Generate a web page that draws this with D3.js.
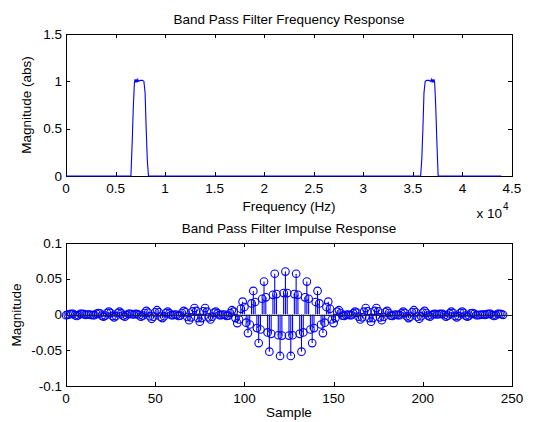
<!DOCTYPE html>
<html>
<head>
<meta charset="utf-8">
<script src="https://cdn.jsdelivr.net/npm/d3@7"></script>
<style>
  body { margin: 0; background: #fff; }
  text { font-family: "Liberation Sans", Arial, Helvetica, sans-serif; font-size: 13.5px; fill: #000; }
</style>
</head>
<body>
<svg id="chart" width="535" height="422"></svg>
<script>
// top panel: |H(f)| (Hz, abs)
let freqHz  = [0, 6550, 6680, 6790, 6900, 6960, 7030, 7100, 7170, 7240, 7310, 7500, 7700, 7860, 7980, 8090, 8200, 8320,
               35780, 35900, 36010, 36120, 36240, 36400, 36600, 36790, 36860, 36930, 37000, 37070, 37140, 37200, 37310, 37420, 37550,
               43920];
let freqMag = [0, 0, 0.36, 0.72, 0.98, 1.02, 0.99, 1.02, 0.99, 1.02, 1.0, 1.01, 1.01, 1.0, 0.88, 0.5, 0.18, 0,
               0, 0.18, 0.5, 0.88, 1.0, 1.01, 1.01, 1.0, 1.02, 0.99, 1.02, 0.99, 1.02, 0.98, 0.72, 0.36, 0,
               0];
let freqTicks = [0, 5000, 10000, 15000, 20000, 25000, 30000, 35000, 40000, 45000];
let magTicks  = [0, 0.5, 1, 1.5];

// bottom panel: impulse response h[n], n = 0..245
let impulse = [
  -.001, -.0005, .0005, .001, .001, -.001, -.002, -.001, .001, .001,
  .0005, -.0005, 0, 0, -.0005, -.001, -.001, .001, .002, .0015,
  -.0015, -.003, -.0015, .002, .004, .002, -.002, -.004, -.002, .002,
  .004, .0015, -.0015, -.003, -.001, .001, .001, .0005, 0, .001,
  .0005, -.001, -.003, -.0015, .002, .005, .0025, -.0025, -.006, -.003,
  .003, .006, .003, -.003, -.005, -.0025, .002, .004, .0015, -.001,
  -.001, 0, -.0005, -.002, -.0015, .002, .005, .003, -.0035, -.008,
  -.004, .0045, .009, .005, -.005, -.01, -.005, .0045, .009, .004,
  -.004, -.007, -.003, .0025, .004, .0015, -.001, -.001, 0, -.0005,
  -.002, -.0015, .002, .006, .004, -.005, -.012, -.007, .008, .018,
  .0105, -.0115, -.026, -.014, .0155, .033, .0175, -.019, -.04, -.021,
  .022, .046, .024, -.025, -.052, -.027, .0275, .057, .0285, -.029,
  -.058, -.0295, .03,
  .06,
  .03, -.0295, -.058, -.029, .0285, .057, .0275, -.027, -.052, -.025,
  .024, .046, .022, -.021, -.04, -.019, .0175, .033, .0155, -.014,
  -.026, -.0115, .0105, .018, .008, -.007, -.012, -.005, .004, .006,
  .002, -.0015, -.002, -.0005, 0, -.001, -.001, .0015, .004, .0025,
  -.003, -.007, -.004, .004, .009, .0045, -.005, -.01, -.005, .005,
  .009, .0045, -.004, -.008, -.0035, .003, .005, .002, -.0015, -.002,
  -.0005, 0, -.001, -.001, .0015, .004, .002, -.0025, -.005, -.003,
  .003, .006, .003, -.003, -.006, -.0025, .0025, .005, .002, -.0015,
  -.003, -.001, .0005, .001, 0, .0005, .001, .001, -.001, -.003,
  -.0015, .0015, .004, .002, -.002, -.004, -.002, .002, .004, .002,
  -.0015, -.003, -.0015, .0015, .002, .001, -.001, -.001, -.0005, 0,
  0, -.0005, .0005, .001, .001, -.001, -.002, -.001, .001, .001,
  .0005, -.0005
];
let sampleTicks = [0, 50, 100, 150, 200, 250];
let impTicks    = [-0.1, -0.05, 0, 0.05, 0.1];

const svg = d3.select('#chart');
const blue = '#0000ff';
const tickLen = 4;

// box with inward ticks on all four sides (matlab style)
let drawFrame = function(g, x, y, xTicks, yTicks, xFmt) {
    let [x0, x1] = x.range();
    let [y0, y1] = y.range(); // y0 bottom, y1 top
    g.append('rect')
        .attr('x', x0 + 0.5).attr('y', y1 + 0.5)
        .attr('width', x1 - x0).attr('height', y0 - y1)
        .attr('fill', 'none').attr('stroke', '#000').attr('stroke-width', 1);

    let ticks = g.append('g').attr('stroke', '#000').attr('stroke-width', 1);
    xTicks.forEach(function(t) {
        let px = Math.round(x(t)) + 0.5;
        ticks.append('line').attr('x1', px).attr('x2', px).attr('y1', y0).attr('y2', y0 - tickLen);
        ticks.append('line').attr('x1', px).attr('x2', px).attr('y1', y1).attr('y2', y1 + tickLen);
    });
    yTicks.forEach(function(t) {
        let py = Math.round(y(t)) + 0.5;
        ticks.append('line').attr('x1', x0).attr('x2', x0 + tickLen).attr('y1', py).attr('y2', py);
        ticks.append('line').attr('x1', x1).attr('x2', x1 - tickLen).attr('y1', py).attr('y2', py);
    });

    g.append('g').selectAll('text').data(xTicks).join('text')
        .attr('x', function(d) { return x(d); })
        .attr('y', y0 + 17)
        .attr('text-anchor', 'middle')
        .text(xFmt);
    g.append('g').selectAll('text').data(yTicks).join('text')
        .attr('x', x0 - 4)
        .attr('y', function(d) { return y(d); })
        .attr('dy', '0.35em')
        .attr('text-anchor', 'end')
        .text(function(d) { return String(d); });
};

// ---- top: frequency response ----
let fx = d3.scaleLinear().domain([0, 45000]).range([66, 512]);
let fy = d3.scaleLinear().domain([0, 1.5]).range([176, 34]);
let freqPanel = svg.append('g');
drawFrame(freqPanel, fx, fy, freqTicks, magTicks, function(d) { return String(d / 1e4); });

let line = d3.line()
    .x(function(d, i) { return fx(freqHz[i]); })
    .y(function(d) { return fy(d); });
freqPanel.append('path')
    .datum(freqMag)
    .attr('d', line)
    .attr('fill', 'none')
    .attr('stroke', blue)
    .attr('stroke-width', 1.1);

freqPanel.append('text').attr('x', 289).attr('y', 23.5).attr('text-anchor', 'middle')
    .text('Band Pass Filter Frequency Response');
freqPanel.append('text').attr('x', 289).attr('y', 211).attr('text-anchor', 'middle')
    .text('Frequency (Hz)');
freqPanel.append('text').attr('transform', 'translate(31,105) rotate(-90)').attr('text-anchor', 'middle')
    .text('Magnitude (abs)');
freqPanel.append('text').attr('x', 502).attr('y', 218).attr('text-anchor', 'end').text('x 10');
freqPanel.append('text').attr('x', 503).attr('y', 210).style('font-size', '10px').text('4');

// ---- bottom: impulse response stems ----
let sx = d3.scaleLinear().domain([0, 250]).range([66, 512]);
let sy = d3.scaleLinear().domain([-0.1, 0.1]).range([386, 243]);
let impPanel = svg.append('g');
drawFrame(impPanel, sx, sy, sampleTicks, impTicks, function(d) { return String(d); });

let stems = impPanel.append('g').attr('stroke', blue).attr('stroke-width', 1.1).attr('fill', 'none');
stems.selectAll('line').data(impulse).join('line')
    .attr('x1', function(d, i) { return sx(i); })
    .attr('x2', function(d, i) { return sx(i); })
    .attr('y1', sy(0))
    .attr('y2', function(d) { return sy(d); });
stems.selectAll('circle').data(impulse).join('circle')
    .attr('cx', function(d, i) { return sx(i); })
    .attr('cy', function(d) { return sy(d); })
    .attr('r', 3.8);

// stem baseline across the axis
impPanel.append('line')
    .attr('x1', sx(0)).attr('x2', sx(250))
    .attr('y1', Math.round(sy(0)) + 0.5).attr('y2', Math.round(sy(0)) + 0.5)
    .attr('stroke', '#222').attr('stroke-width', 1);

impPanel.append('text').attr('x', 289).attr('y', 232.5).attr('text-anchor', 'middle')
    .text('Band Pass Filter Impulse Response');
impPanel.append('text').attr('x', 289).attr('y', 417).attr('text-anchor', 'middle')
    .text('Sample');
impPanel.append('text').attr('transform', 'translate(21,315) rotate(-90)').attr('text-anchor', 'middle')
    .text('Magnitude');
</script>
</body>
</html>
